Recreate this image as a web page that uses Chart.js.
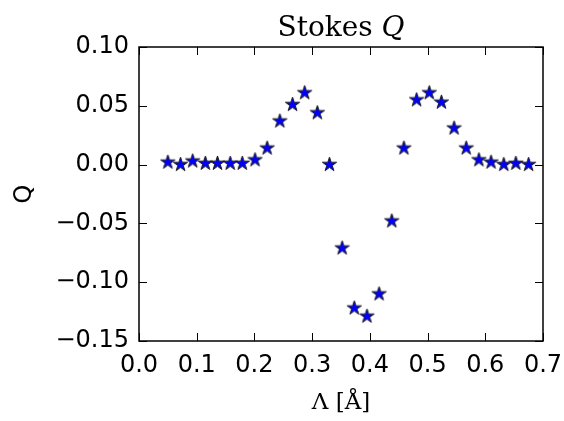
<!DOCTYPE html>
<html>
<head>
<meta charset="utf-8">
<script src="https://cdn.jsdelivr.net/npm/chart.js@4"></script>
<style>
  html,body{margin:0;padding:0;background:#fff}
  #wrap{width:564px;height:421px}
</style>
</head>
<body>
<div id="wrap"><canvas id="stokes"></canvas></div>
<script>
// wavelength offsets and Stokes Q samples
const lambdaVals=[0.050,0.072,0.093,0.115,0.136,0.158,0.179,0.201,0.222,0.244,
                  0.266,0.287,0.309,0.330,0.352,0.373,0.395,0.416,0.438,0.459,
                  0.481,0.503,0.524,0.546,0.567,0.589,0.610,0.632,0.653,0.675];
const qVals=[0.002,0.000,0.003,0.001,0.001,0.001,0.001,0.004,0.014,0.037,
             0.051,0.061,0.044,0.000,-0.071,-0.122,-0.129,-0.110,-0.048,0.014,
             0.055,0.061,0.053,0.031,0.014,0.004,0.002,0.000,0.001,0.000];
const xTicks=[0,0.1,0.2,0.3,0.4,0.5,0.6,0.7];
const yTicks=[-0.15,-0.10,-0.05,0.00,0.05,0.10];

// filled five-point star marker
function starMarker(R){
  const c=document.createElement('canvas');
  const s=Math.ceil(R*2+4);c.width=s;c.height=s;
  const g=c.getContext('2d'),cx=s/2,cy=s/2,r=R*0.382;
  g.beginPath();
  for(let i=0;i<10;i++){
    const a=-Math.PI/2+i*Math.PI/5,rr=i%2?r:R;
    g.lineTo(cx+rr*Math.cos(a),cy+rr*Math.sin(a));
  }
  g.closePath();
  g.fillStyle='#0000ff';g.fill();
  g.lineWidth=1;g.strokeStyle='#1a1a1a';g.stroke();
  return c;
}

// box frame with inward ticks on all four sides, plus the mixed-font title
const framePlugin={
  id:'frame',
  afterDraw(chart){
    const {ctx,chartArea:a,scales:{x,y}}=chart;
    ctx.save();
    ctx.strokeStyle='#000';ctx.lineWidth=1.5;
    ctx.strokeRect(a.left,a.top,a.right-a.left,a.bottom-a.top);
    ctx.lineWidth=1;
    const L=8;
    ctx.beginPath();
    xTicks.forEach(v=>{const px=Math.round(x.getPixelForValue(v))+0.5;
      ctx.moveTo(px,a.bottom);ctx.lineTo(px,a.bottom-L);
      ctx.moveTo(px,a.top);ctx.lineTo(px,a.top+L);});
    yTicks.forEach(v=>{const py=Math.round(y.getPixelForValue(v))+0.5;
      ctx.moveTo(a.left,py);ctx.lineTo(a.left+L,py);
      ctx.moveTo(a.right,py);ctx.lineTo(a.right-L,py);});
    ctx.stroke();
    // title
    const f1='28px "DejaVu Serif"',f2='italic 28px "DejaVu Serif"';
    ctx.fillStyle='#000';ctx.textBaseline='alphabetic';
    ctx.font=f1;const w1=ctx.measureText('Stokes ').width;
    ctx.font=f2;const w2=ctx.measureText('Q').width;
    const x0=(a.left+a.right)/2-(w1+w2)/2,yb=36;
    ctx.font=f1;ctx.fillText('Stokes ',x0,yb);
    ctx.font=f2;ctx.fillText('Q',x0+w1,yb);
    ctx.restore();
  }
};

const tickFont={family:'"DejaVu Sans"',size:24};

new Chart(document.getElementById('stokes'),{
  type:'scatter',
  data:{datasets:[{
    data:lambdaVals.map((v,i)=>({x:v,y:qVals[i]})),
    pointStyle:starMarker(7.5),pointRadius:7.5,pointHoverRadius:7.5
  }]},
  options:{
    responsive:true,maintainAspectRatio:false,animation:false,
    layout:{padding:{top:47,right:21,left:0,bottom:0}},
    plugins:{legend:{display:false},tooltip:{enabled:false}},
    scales:{
      x:{type:'linear',min:0,max:0.7,
        afterFit(s){s.height=80;s.paddingLeft=0;s.paddingRight=0},
        afterBuildTicks(s){s.ticks=xTicks.map(v=>({value:v}))},
        ticks:{font:tickFont,color:'#000',padding:10,callback:v=>v.toFixed(1),maxRotation:0},
        grid:{display:false,drawTicks:false},border:{display:false},
        title:{display:true,text:'Λ [Å]',color:'#000',font:{family:'"DejaVu Serif"',size:23},padding:{top:0,bottom:4}}
      },
      y:{type:'linear',min:-0.15,max:0.10,
        afterFit(s){s.width=139;s.paddingTop=0;s.paddingBottom=0},
        afterBuildTicks(s){s.ticks=yTicks.map(v=>({value:v}))},
        ticks:{font:tickFont,color:'#000',padding:10,
          callback:v=>(v<-1e-9?'\u2212':'')+Math.abs(v).toFixed(2)},
        grid:{display:false,drawTicks:false},border:{display:false},
        title:{display:true,text:'Q',color:'#000',font:{family:'"DejaVu Sans"',size:24},padding:{top:10,bottom:0}}
      }
    }
  },
  plugins:[framePlugin]
});
</script>
</body>
</html>
